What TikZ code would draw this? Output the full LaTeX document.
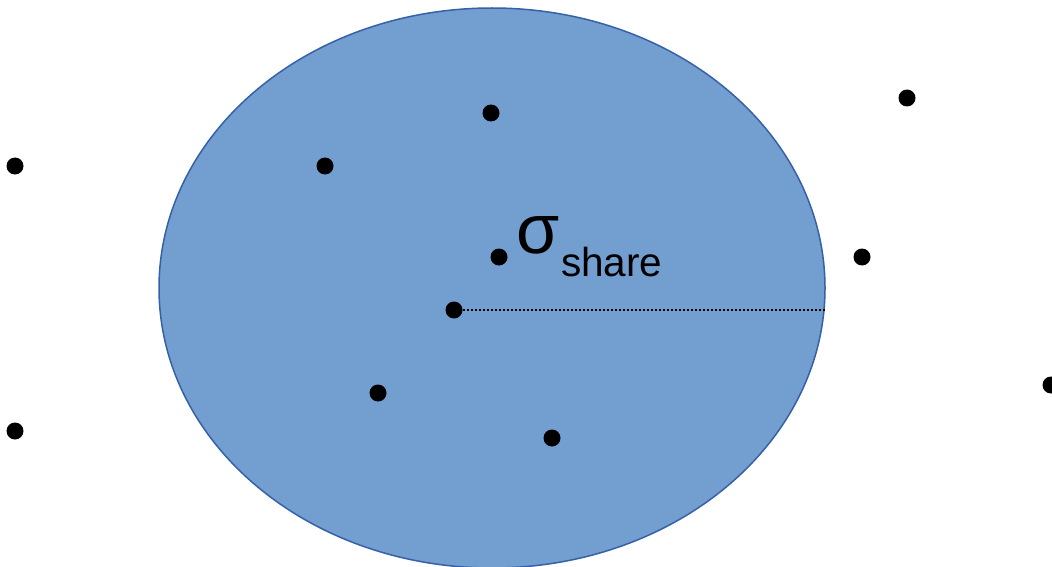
\documentclass[tikz,border=0pt]{standalone}
\usepackage{fontspec}
\setmainfont{Liberation Sans}
\definecolor{efill}{RGB}{114,159,207}
\definecolor{edraw}{RGB}{54,96,168}
\begin{document}
\begin{tikzpicture}[x=1pt,y=-1pt,
  pt/.style={circle,fill=black,inner sep=0pt,minimum size=17pt},
  lbl/.style={inner sep=0pt,anchor=base west}]
\useasboundingbox (0,0) rectangle (1052,567);
\begin{scope}
\clip (0,0) rectangle (1052,567);
\draw[edraw,fill=efill,line width=1.5pt] (492,288) ellipse [x radius=333, y radius=280];
\node[pt] (c) at (454,310) {};
\coordinate (r) at (825,310);
\draw[black,line width=2pt,dash pattern=on 2pt off 2pt] (c) -- (r);
\node[pt] (p1) at (15,166) {};
\node[pt] (p2) at (325,166) {};
\node[pt] (p3) at (491,113) {};
\node[pt] (p4) at (907,98) {};
\node[pt] (p5) at (499,257) {};
\node[pt] (p6) at (862,257) {};
\node[pt] (p7) at (378,393) {};
\node[pt] (p8) at (552,438) {};
\node[pt] (p9) at (15,431) {};
\node[pt] (p10) at (1051,385) {};
\node[lbl,font=\fontsize{70}{72}\selectfont] (sig) at (516,253) {σ};
\node[lbl,font=\fontsize{40.5}{42}\selectfont] (sub) at (561,276) {share};
\end{scope}
\end{tikzpicture}
\end{document}
